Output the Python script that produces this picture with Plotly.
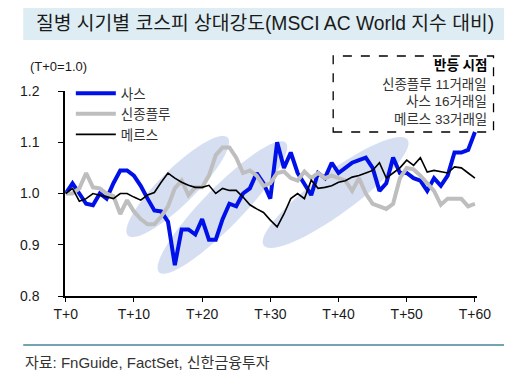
import math
import plotly.graph_objects as go

# ---- data ----
days = list(range(61))
tick_vals = [0, 10, 20, 30, 40, 50, 60]
tick_text = ["T+0", "T+10", "T+20", "T+30", "T+40", "T+50", "T+60"]

sars = [1.00, 1.02, 1.00, 0.98, 0.977, 1.00, 0.99, 1.02, 1.045, 1.045,
        1.035, 1.015, 0.99, 0.967, 0.965, 0.945, 0.86, 0.93, 0.93, 0.92,
        0.95, 0.91, 0.91, 0.95, 0.98, 0.975, 1.00, 1.01, 1.04, 1.02,
        0.99, 1.10, 1.05, 1.08, 1.04, 1.02, 0.997, 1.04, 1.03, 1.06,
        1.04, 1.05, 1.06, 1.065, 1.07, 1.05, 1.005, 1.02, 1.07, 1.04,
        1.04, 1.03, 1.025, 1.005, 1.03, 1.015, 1.035, 1.08, 1.08, 1.085,
        1.12]

h1n1 = [1.00, 1.00, 1.01, 1.04, 1.012, 1.01, 1.00, 0.995, 0.96, 0.987,
        0.965, 0.95, 0.94, 0.94, 0.955, 0.975, 1.01, 1.025, 0.997, 1.012,
        1.012, 1.035, 1.075, 1.09, 1.09, 1.07, 1.04, 1.045, 1.035, 1.015,
        1.02, 1.04, 1.043, 1.03, 1.025, 1.043, 1.03, 1.04, 1.03, 1.035,
        1.03, 1.025, 1.005, 1.03, 1.00, 0.98, 0.975, 0.97, 0.98, 1.03,
        1.05, 1.047, 1.035, 1.02, 1.005, 0.978, 0.99, 0.99, 0.99, 0.975,
        0.98]

mers = [1.00, 1.01, 0.985, 0.99, 1.00, 0.997, 0.993, 0.99, 1.00, 1.00,
        0.993, 0.987, 0.997, 1.002, 1.022, 1.04, 1.03, 1.022, 1.016, 1.012,
        1.012, 1.016, 1.00, 1.01, 1.006, 1.006, 0.993, 0.978, 0.97, 0.963,
        0.948, 0.935, 0.96, 0.99, 1.00, 0.99, 1.026, 1.01, 1.012, 1.015,
        1.022, 1.025, 1.032, 1.035, 1.04, 1.045, 1.06, 1.03, 1.04, 1.05,
        1.065, 1.055, 1.07, 1.042, 1.045, 1.042, 1.04, 1.052, 1.05, 1.04,
        1.03]

series_names = ["사스", "신종플루", "메르스"]
box_lines = ["<b>반등 시점</b>", "신종플루 11거래일", "사스 16거래일", "메르스 33거래일"]

# ---- layout geometry (reference pixels; page has an 8px body margin) ----
OFF = 8
W, H = 512 - OFF, 383 - OFF
PL, PR, PT, PB = 53, 477, 91, 296
X_RANGE = [-0.1, 60.3]
Y_RANGE = [0.8, 1.2]
px_x = (PR - PL) / (X_RANGE[1] - X_RANGE[0])
px_y = (PB - PT) / (Y_RANGE[1] - Y_RANGE[0])


def pxx(x):
    return (x - PL) / (PR - PL)


def pxy(y):
    return (PB - y) / (PB - PT)


def ellipse_path(cx_px, cy_px, a, b, ang_deg, n=60):
    phi = math.radians(ang_deg)
    cx = X_RANGE[0] + (cx_px - PL) / px_x
    cy = Y_RANGE[0] + (PB - cy_px) / px_y
    pts = []
    for i in range(n):
        th = 2 * math.pi * i / n
        dx = a * math.cos(th) * math.cos(phi) - b * math.sin(th) * math.sin(phi)
        dy = a * math.cos(th) * math.sin(phi) + b * math.sin(th) * math.cos(phi)
        pts.append((cx + dx / px_x, cy + dy / px_y))
    return "M " + " L ".join(f"{x:.4f},{y:.5f}" for x, y in pts) + " Z"


LAT = "Liberation Sans, Arial, Noto Sans CJK KR"
KR = "Liberation Sans, Noto Sans CJK KR, sans-serif"

fig = go.Figure()
fig.add_trace(go.Scatter(x=days, y=sars, name=series_names[0], mode="lines",
                         line=dict(color="#0010E8", width=4)))
fig.add_trace(go.Scatter(x=days, y=h1n1, name=series_names[1], mode="lines",
                         line=dict(color="#BEBEBE", width=4)))
fig.add_trace(go.Scatter(x=days, y=mers, name=series_names[2], mode="lines",
                         line=dict(color="#000000", width=1.6)))

shapes = []
ell_color = "rgba(210,220,241,0.9)"
for (cx, cy, a, b, ang) in [(169, 186.5, 71, 18, 43.6),
                            (215, 207.5, 92, 20, 44.8),
                            (331.5, 192.5, 91, 21, 35.5)]:
    shapes.append(dict(type="path", path=ellipse_path(cx, cy, a, b, ang),
                       xref="x", yref="y", fillcolor=ell_color,
                       line=dict(width=0), layer="below"))
# title bar
shapes.append(dict(type="rect", xref="paper", yref="paper",
                   x0=pxx(10), x1=pxx(520), y0=pxy(40), y1=pxy(7),
                   fillcolor="#DDEDF3", line=dict(width=0), layer="below"))
# dashed box
shapes.append(dict(type="rect", xref="paper", yref="paper",
                   x0=pxx(329), x1=pxx(494), y0=pxy(132), y1=pxy(56),
                   fillcolor="rgba(0,0,0,0)",
                   line=dict(color="#000000", width=1.3, dash="dash")))
# bottom rule
shapes.append(dict(type="line", xref="paper", yref="paper",
                   x0=pxx(10), x1=pxx(520), y0=pxy(345), y1=pxy(345),
                   line=dict(color="#4A8398", width=1.5)))

annotations = [
    dict(text="질병 시기별 코스피 상대강도(MSCI AC World 지수 대비)",
         xref="paper", yref="paper", x=pxx(21), y=pxy(24),
         xanchor="left", yanchor="middle", showarrow=False,
         font=dict(size=19.3, color="#1A1A1A", family=KR)),
    dict(text="(T+0=1.0)", xref="paper", yref="paper", x=pxx(15), y=pxy(67),
         xanchor="left", yanchor="middle", showarrow=False,
         font=dict(size=13, color="#1A1A1A", family=LAT)),
    dict(text="자료: FnGuide, FactSet, 신한금융투자", xref="paper", yref="paper",
         x=pxx(10), y=pxy(362), xanchor="left", yanchor="middle", showarrow=False,
         font=dict(size=15, color="#333333", family=KR)),
]
for i, (t, yy) in enumerate(zip(box_lines, [66, 84, 101, 119])):
    annotations.append(dict(text=t, xref="paper", yref="paper", x=pxx(489), y=pxy(yy),
                            xanchor="right", yanchor="middle", showarrow=False,
                            font=dict(size=13.5, color="#000000" if i == 0 else "#333333",
                                      family=KR)))

fig.update_layout(
    width=W, height=H,
    margin=dict(l=PL - OFF, r=W - (PR - OFF), t=PT - OFF, b=H - (PB - OFF), pad=0),
    paper_bgcolor="white", plot_bgcolor="white",
    showlegend=True,
    legend=dict(x=pxx(59), y=pxy(78), xanchor="left", yanchor="top",
                bgcolor="rgba(0,0,0,0)", font=dict(size=13.5, color="#333333", family=KR),
                tracegroupgap=0, itemwidth=40),
    shapes=shapes, annotations=annotations,
    xaxis=dict(range=X_RANGE, tickvals=tick_vals, ticktext=tick_text,
               showgrid=False, zeroline=False, showline=True, linecolor="black",
               linewidth=1.5, ticks="outside", ticklen=4, tickcolor="black",
               tickfont=dict(size=14, color="#1A1A1A", family=LAT)),
    yaxis=dict(range=Y_RANGE, dtick=0.1, tickformat=".1f",
               showgrid=False, zeroline=False, showline=True, linecolor="black",
               linewidth=1.5, ticks="outside", ticklen=5, tickcolor="black",
               ticklabelstandoff=16,
               tickfont=dict(size=14, color="#1A1A1A", family=LAT)),
)

fig.write_html("out.html")
